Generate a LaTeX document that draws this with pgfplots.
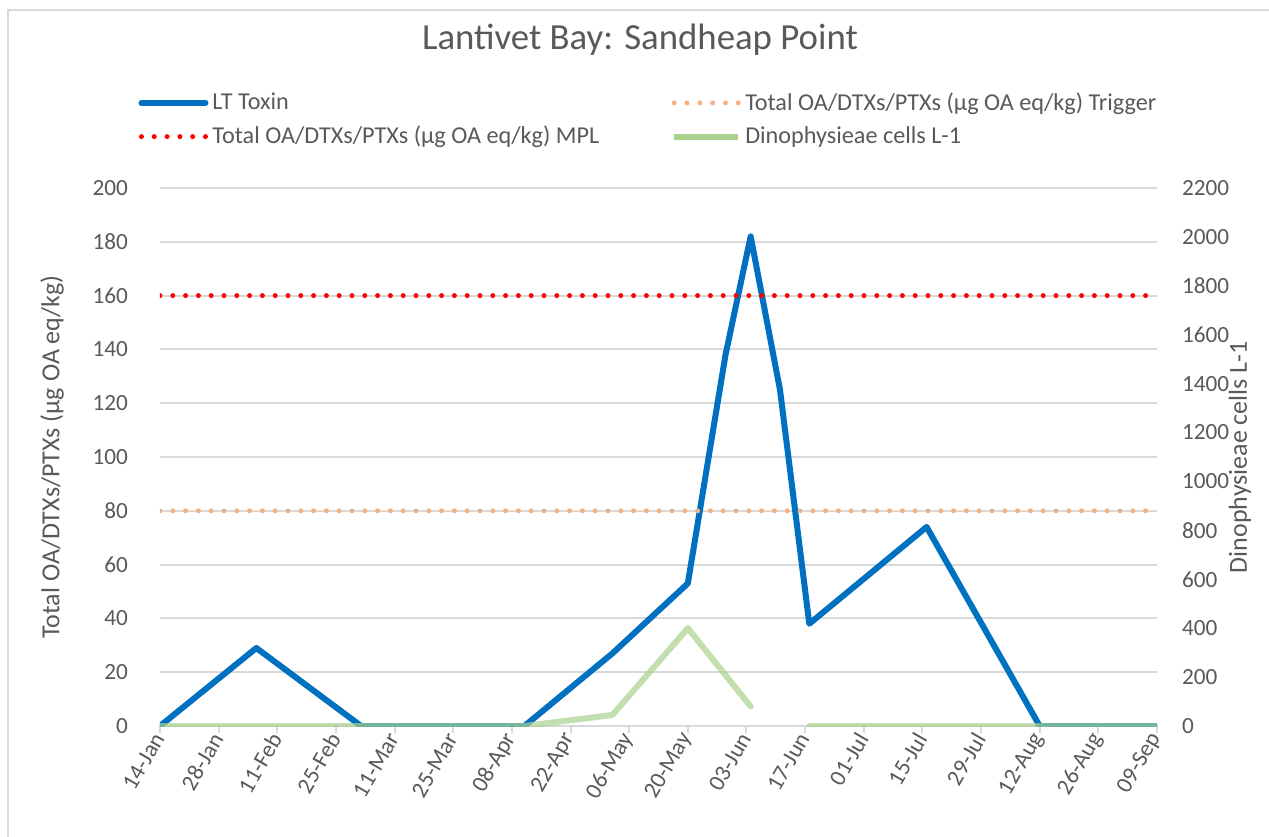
\documentclass[border=0pt]{standalone}
\usepackage{pgfplots}
\usepackage{pgfplotstable}
\pgfplotsset{compat=1.18}
\usepackage{fontspec}
\setmainfont{Carlito}
\definecolor{txt}{RGB}{89,89,89}
\definecolor{gridc}{RGB}{217,217,217}
\definecolor{ltblue}{RGB}{0,112,192}
\definecolor{trig}{RGB}{244,177,131}
\definecolor{mpl}{RGB}{255,0,0}
\definecolor{dino}{RGB}{169,209,142}

\pgfplotstableread{
day toxin
0 0
23 29
48 0
87 0
108 27
126 53
135 138
141 182
148 125
155 38
183 74
210 0
238 0
}\toxin

\pgfplotstableread{
day cells
0 0
87 0
108 45
126 400
141 80
}\dinoA

\pgfplotstableread{
day cells
155 0
238 0
}\dinoB

\begin{document}
\begin{tikzpicture}[x=1pt,y=1pt]
\useasboundingbox (-80,-55) rectangle (554.5,363);
\draw[gridc, line width=1pt] (-76,-60) -- (-76,358) -- (560,358);
\node[text=txt, font=\fontsize{18.4}{22}\selectfont] at (240,343) {Lantivet Bay: Sandheap Point};

\begin{axis}[
  at={(0,0)}, anchor=south west,
  scale only axis, width=498.5pt, height=269pt,
  xmin=0, xmax=238, ymin=0, ymax=200,
  xtick={0,14,...,238},
  xticklabels={14-Jan,28-Jan,11-Feb,25-Feb,11-Mar,25-Mar,08-Apr,22-Apr,06-May,20-May,03-Jun,17-Jun,01-Jul,15-Jul,29-Jul,12-Aug,26-Aug,09-Sep},
  ytick={0,20,...,200},
  axis line style={draw=none},
  ymajorgrids, grid style={gridc, line width=1pt},
  xtick pos=left, ytick pos=left,
  xtick style={gridc, line width=1pt},
  ytick style={draw=none},
  tick align=outside,
  major tick length=3.5pt,
  /pgf/number format/assume math mode=true,
  /pgf/number format/1000 sep={},
  scaled y ticks=false,
  tick label style={text=txt, font=\fontsize{11.6}{13}\selectfont},
  xticklabel style={rotate=60, anchor=east, inner sep=1pt},
  yticklabel style={xshift=-9pt},
  ylabel={Total OA/DTXs/PTXs (μg OA eq/kg)},
  ylabel style={at={(axis description cs:-0.1083,0.5)}, anchor=center, text=txt, font=\fontsize{13}{15}\selectfont},
  legend columns=2,
  legend cell align=left,
  legend style={at={(axis description cs:-0.028,1.193)}, anchor=north west, draw=none, fill=none,
    text=txt, font=\fontsize{12.1}{14}\selectfont, row sep=2.5pt,
    /tikz/every even column/.append style={column sep=34pt}},
  legend image code/.code={\draw[#1] (0pt,0pt) -- (32pt,0pt);},
]
\addplot[ltblue, line width=3pt, line join=round, line cap=round] table[x=day,y=toxin] {\toxin};
\addlegendentry{LT Toxin}
\addplot[trig, line width=2.5pt, line cap=round, dash pattern=on 0pt off 6.4pt] coordinates {(0,80) (238,80)};
\addlegendentry{Total OA/DTXs/PTXs (μg OA eq/kg) Trigger}
\addplot[mpl, line width=2.5pt, line cap=round, dash pattern=on 0pt off 6.4pt] coordinates {(0,160) (238,160)};
\addlegendentry{Total OA/DTXs/PTXs (μg OA eq/kg) MPL}
\addlegendimage{dino, line width=3pt}
\addlegendentry{Dinophysieae cells L-1}
\end{axis}

\begin{axis}[
  at={(0,0)}, anchor=south west,
  scale only axis, width=498.5pt, height=269pt,
  xmin=0, xmax=238, ymin=0, ymax=2200,
  ytick={0,200,...,2200},
  hide x axis,
  axis line style={draw=none},
  ytick pos=right, yticklabel pos=right,
  ytick style={draw=none},
  /pgf/number format/assume math mode=true,
  /pgf/number format/1000 sep={},
  scaled y ticks=false,
  tick label style={text=txt, font=\fontsize{11.6}{13}\selectfont},
  yticklabel style={xshift=9pt},
  ylabel={Dinophysieae cells L-1},
  ylabel style={at={(axis description cs:1.0833,0.5)}, anchor=center, rotate=0, text=txt, font=\fontsize{13}{15}\selectfont},
]
\addplot[dino, opacity=0.7, line width=3pt, line join=round, line cap=round] table[x=day,y=cells] {\dinoA};
\addplot[dino, opacity=0.7, line width=3pt, line join=round, line cap=round] table[x=day,y=cells] {\dinoB};
\end{axis}
\end{tikzpicture}
\end{document}
